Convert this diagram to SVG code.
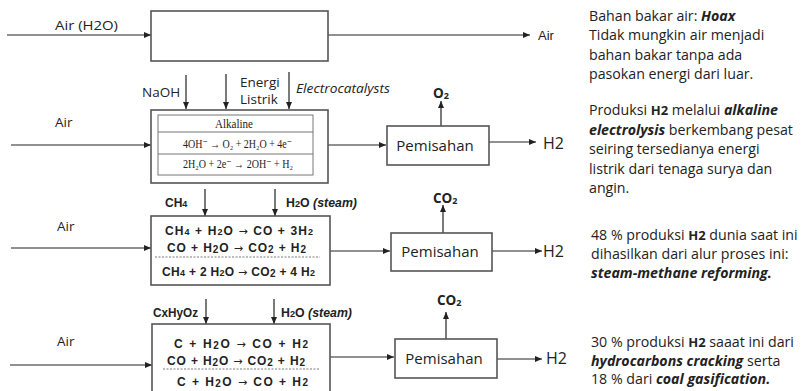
<svg xmlns="http://www.w3.org/2000/svg" width="806" height="391" viewBox="0 0 806 391">
<style>
.bx{fill:#fff;stroke:#555;stroke-width:1.6}
.ln{fill:none;stroke:#222;stroke-width:1.2}
.c{font-family:"Open Sans","Liberation Sans",sans-serif;fill:#222;font-size:13.5px}
.a{font-family:"Liberation Sans",Arial,sans-serif;fill:#222;font-size:11px}
.ab{font-family:"Liberation Sans",Arial,sans-serif;fill:#222;font-size:12px;font-weight:bold}
.s{font-family:"Liberation Serif","DejaVu Serif","Times New Roman",serif;fill:#222;font-size:12px}
.r{font-family:"Open Sans","Liberation Sans",sans-serif;fill:#222;font-size:14.2px}
.tb{fill:none;stroke:#777;stroke-width:1}
.p{font-family:"Open Sans","Liberation Sans",sans-serif;fill:#222;font-size:15px}
.h{font-family:"Open Sans","Liberation Sans",sans-serif;fill:#222;font-size:16px}
.arw{font-family:"DejaVu Sans",sans-serif;font-weight:normal;font-size:11px}
</style>
<defs>
<marker id="ar" markerWidth="8" markerHeight="8" refX="7" refY="4" orient="auto" markerUnits="userSpaceOnUse">
<path d="M0,1 L7,4 L0,7 Z" fill="#222"/>
</marker>
</defs>

<g id="connectors">
<line class="ln" x1="7" y1="35" x2="151" y2="35" marker-end="url(#ar)"/>
<line class="ln" x1="328" y1="35" x2="530" y2="35" marker-end="url(#ar)"/>
<line class="ln" x1="11" y1="145" x2="151" y2="145" marker-end="url(#ar)"/>
<line class="ln" x1="186" y1="75" x2="186" y2="109" marker-end="url(#ar)"/>
<line class="ln" x1="226" y1="74" x2="226" y2="109" marker-end="url(#ar)"/>
<line class="ln" x1="289" y1="72" x2="289" y2="109" marker-end="url(#ar)"/>
<line class="ln" x1="328" y1="145" x2="386" y2="145" marker-end="url(#ar)"/>
<line class="ln" x1="441" y1="126" x2="441" y2="101" marker-end="url(#ar)"/>
<line class="ln" x1="489" y1="142" x2="536" y2="142" marker-end="url(#ar)"/>

<line class="ln" x1="11" y1="248" x2="151" y2="248" marker-end="url(#ar)"/>
<line class="ln" x1="205" y1="189" x2="205" y2="216" marker-end="url(#ar)"/>
<line class="ln" x1="275" y1="189" x2="275" y2="216" marker-end="url(#ar)"/>
<line class="ln" x1="330" y1="251" x2="390" y2="251" marker-end="url(#ar)"/>
<line class="ln" x1="443" y1="233" x2="443" y2="205" marker-end="url(#ar)"/>
<line class="ln" x1="492" y1="251" x2="542" y2="251" marker-end="url(#ar)"/>

<line class="ln" x1="10" y1="365" x2="152" y2="365" marker-end="url(#ar)"/>
<line class="ln" x1="206" y1="299" x2="206" y2="324" marker-end="url(#ar)"/>
<line class="ln" x1="274" y1="299" x2="274" y2="324" marker-end="url(#ar)"/>
<line class="ln" x1="330" y1="357" x2="394" y2="357" marker-end="url(#ar)"/>
<line class="ln" x1="446" y1="339" x2="446" y2="312" marker-end="url(#ar)"/>
<line class="ln" x1="494" y1="359" x2="542" y2="359" marker-end="url(#ar)"/>
</g>

<g id="labels">
<text class="c" x="55" y="30" textLength="63" lengthAdjust="spacingAndGlyphs">Air (H2O)</text>
<text class="a" x="538" y="40" style="font-size:13px">Air</text>
<text class="c" x="55" y="127">Air</text>
<text class="c" x="142" y="97">NaOH</text>
<text class="c" x="240" y="87">Energi</text>
<text class="c" x="240" y="104">Listrik</text>
<text class="c" x="296" y="93" font-style="italic" textLength="94" lengthAdjust="spacingAndGlyphs">Electrocatalysts</text>
<text class="c" x="433" y="98" font-weight="bold" font-size="12">O<tspan font-size="9" dy="1">2</tspan></text>
<text class="h" x="543" y="149">H2</text>

<text class="c" x="57" y="231">Air</text>
<text class="ab" x="165" y="207" fill="#333">CH<tspan font-size="9">4</tspan></text>
<text class="ab" x="286" y="207" fill="#333" textLength="71" lengthAdjust="spacingAndGlyphs">H<tspan font-size="9">2</tspan>O <tspan font-style="italic">(steam)</tspan></text>
<text class="c" x="433" y="203" font-weight="bold" font-size="12">CO<tspan font-size="9" dy="1">2</tspan></text>
<text class="h" x="543" y="257">H2</text>

<text class="c" x="57" y="346">Air</text>
<text class="ab" x="153" y="317" fill="#333" textLength="45" lengthAdjust="spacingAndGlyphs">CxHyOz</text>
<text class="ab" x="281" y="317" fill="#333" textLength="71" lengthAdjust="spacingAndGlyphs">H<tspan font-size="9">2</tspan>O <tspan font-style="italic">(steam)</tspan></text>
<text class="c" x="437" y="305" font-weight="bold" font-size="12">CO<tspan font-size="9" dy="1">2</tspan></text>
<text class="h" x="546" y="364">H2</text>
</g>

<g id="node-top">
<rect class="bx" x="151" y="11" width="177" height="50"/>
</g>

<g id="node-alkaline">
<rect class="bx" x="151" y="110" width="177" height="73"/>
<rect class="tb" x="158" y="115" width="155" height="60"/>
<line class="tb" x1="158" y1="132" x2="313" y2="132"/>
<line class="tb" x1="158" y1="154" x2="313" y2="154"/>
<text class="s" x="215" y="128" textLength="38" lengthAdjust="spacingAndGlyphs">Alkaline</text>
<text class="s" x="183" y="148" textLength="109" lengthAdjust="spacingAndGlyphs">4OH⁻ → O₂ + 2H₂O + 4e⁻</text>
<text class="s" x="183" y="168" textLength="110" lengthAdjust="spacingAndGlyphs">2H₂O + 2e⁻ → 2OH⁻ + H₂</text>
</g>

<g id="node-pemisahan-1">
<rect class="bx" x="387" y="126" width="102" height="39"/>
<text class="p" x="435" y="151" text-anchor="middle">Pemisahan</text>
</g>

<g id="node-smr">
<rect class="bx" x="151" y="216" width="179" height="69"/>
<text class="ab" x="165" y="235" textLength="148" lengthAdjust="spacing">CH<tspan font-size="9">4</tspan> + H<tspan font-size="9">2</tspan>O <tspan class="arw">→</tspan>  CO  + 3H<tspan font-size="9">2</tspan></text>
<text class="ab" x="167" y="252" font-size="13" textLength="139" lengthAdjust="spacing">CO + H<tspan font-size="10" dy="1">2</tspan><tspan dy="-1">O </tspan><tspan class="arw">→</tspan> CO<tspan font-size="10" dy="1">2</tspan><tspan dy="-1"> + H</tspan><tspan font-size="10" dy="1">2</tspan></text>
<line x1="155" y1="257" x2="320" y2="257" stroke="#555" stroke-width="0.8" stroke-dasharray="2,1.5"/>
<text class="ab" x="162" y="276" textLength="153" lengthAdjust="spacing">CH<tspan font-size="9">4</tspan> + 2 H<tspan font-size="9">2</tspan>O <tspan class="arw">→</tspan> CO<tspan font-size="10" dy="1">2</tspan><tspan dy="-1"> + 4 H</tspan><tspan font-size="9">2</tspan></text>
</g>

<g id="node-pemisahan-2">
<rect class="bx" x="391" y="233" width="101" height="38"/>
<text class="p" x="440" y="257" text-anchor="middle">Pemisahan</text>
</g>

<g id="node-gasification">
<rect class="bx" x="152" y="324" width="178" height="80"/>
<text class="ab" x="174" y="348" font-size="13" textLength="134" lengthAdjust="spacing">C + H<tspan font-size="10" dy="1">2</tspan><tspan dy="-1">O </tspan><tspan class="arw">→</tspan>  CO +  H<tspan font-size="10">2</tspan></text>
<text class="ab" x="167" y="365" font-size="13" textLength="138" lengthAdjust="spacing">CO + H<tspan font-size="10" dy="1">2</tspan><tspan dy="-1">O </tspan><tspan class="arw">→</tspan> CO<tspan font-size="10" dy="1">2</tspan><tspan dy="-1"> + H</tspan><tspan font-size="10" dy="1">2</tspan></text>
<line x1="163" y1="369" x2="319" y2="369" stroke="#555" stroke-width="0.8" stroke-dasharray="2,1.5"/>
<text class="ab" x="177" y="386" font-size="13" textLength="131" lengthAdjust="spacing">C + H<tspan font-size="10" dy="1">2</tspan><tspan dy="-1">O </tspan><tspan class="arw">→</tspan>  CO +  H<tspan font-size="10">2</tspan></text>
</g>

<g id="node-pemisahan-3">
<rect class="bx" x="395" y="339" width="102" height="39"/>
<text class="p" x="444" y="364" text-anchor="middle">Pemisahan</text>
</g>

<g id="notes">
<text class="r" x="589" y="21">Bahan bakar air: <tspan font-weight="bold" font-style="italic">Hoax</tspan></text>
<text class="r" x="589" y="40">Tidak mungkin air menjadi</text>
<text class="r" x="589" y="60">bahan bakar tanpa ada</text>
<text class="r" x="589" y="79">pasokan energi dari luar.</text>

<text class="r" x="589" y="115">Produksi <tspan font-weight="bold" font-size="13">H2</tspan> melalui <tspan font-weight="bold" font-style="italic">alkaline</tspan></text>
<text class="r" x="589" y="135"><tspan font-weight="bold" font-style="italic">electrolysis</tspan> berkembang pesat</text>
<text class="r" x="589" y="154">seiring tersedianya energi</text>
<text class="r" x="589" y="174">listrik dari tenaga surya dan</text>
<text class="r" x="589" y="193">angin.</text>

<text class="r" x="591" y="240">48 % produksi <tspan font-weight="bold" font-size="13">H2</tspan> dunia saat ini</text>
<text class="r" x="591" y="259">dihasilkan dari alur proses ini:</text>
<text class="r" x="591" y="278" font-weight="bold" font-style="italic">steam-methane reforming.</text>

<text class="r" x="591" y="347">30 % produksi <tspan font-weight="bold" font-size="13">H2</tspan> saaat ini dari</text>
<text class="r" x="591" y="366"><tspan font-weight="bold" font-style="italic">hydrocarbons cracking</tspan> serta</text>
<text class="r" x="591" y="384">18 % dari <tspan font-weight="bold" font-style="italic">coal gasification.</tspan></text>
</g>
</svg>
